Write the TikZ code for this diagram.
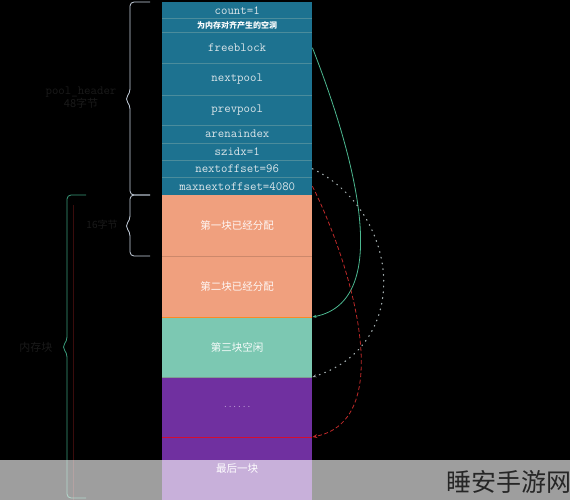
\documentclass[tikz,border=0pt]{standalone}
\usepackage{fontspec}
\newfontfamily\cjk{Noto Sans CJK SC}
\usetikzlibrary{arrows.meta, calc}
\definecolor{hdrfill}{HTML}{1D7290}
\definecolor{hdrsep}{HTML}{4B8C9C}
\definecolor{hdrtext}{HTML}{DCE6EA}
\definecolor{usedfill}{HTML}{F0A07E}
\definecolor{freefill}{HTML}{7CC8B2}
\definecolor{restfill}{HTML}{7030A0}
\definecolor{bracegray}{HTML}{C8D2E0}
\definecolor{bracegreen}{HTML}{3A9C7C}
\definecolor{dimtext}{HTML}{1A1A1A}
\definecolor{guidered}{HTML}{3A0C0C}
\definecolor{freelink}{HTML}{4CB890}
\definecolor{nextlink}{HTML}{A0AAAC}
\definecolor{maxlink}{HTML}{C02A2A}
% #1 colour, #2 x of the bar, #3 x of the ends, #4 top, #5 tip, #6 bottom
\newcommand{\sidebrace}[6]{%
  \draw[#1, thick, rounded corners=4pt]
    (#3,#4) -| (#2,{#5-6}) -- ({#2-5},#5) -- (#2,{#5+6}) |- (#3,#6);}

\begin{document}
\begin{tikzpicture}[
        x=1pt, y=-1pt,
        hdrrow/.style={fill=hdrfill, text=hdrtext, minimum width=150pt,
            inner sep=0pt, anchor=north west, font=\ttfamily\fontsize{12.5}{12.5}\selectfont},
        blkrow/.style={minimum width=150pt, inner sep=0pt, anchor=north west,
            font=\cjk\fontsize{10.5}{11}\selectfont},
        dimlabel/.style={text=dimtext, align=center}
    ]
        \useasboundingbox (0,0) rectangle (570,500);
        \fill[black] (0,0) rectangle (570,500);
        % faint guide line
        \draw[guidered, thin] (73,205) -- (73,500);
        % pool header
        \node[hdrrow, minimum height=16pt] (cnt) at (162,2) {count=1};
        \node[hdrrow, minimum height=14pt, font=\cjk\bfseries\fontsize{8}{8}\selectfont, text=white] (hole) at (162,18) {为内存对齐产生的空洞};
        \node[hdrrow, minimum height=31pt] (free) at (162,32) {freeblock};
        \node[hdrrow, minimum height=32pt] (npool) at (162,63) {nextpool};
        \node[hdrrow, minimum height=30pt] (ppool) at (162,95) {prevpool};
        \node[hdrrow, minimum height=18pt] (arena) at (162,125) {arenaindex};
        \node[hdrrow, minimum height=17pt] (szidx) at (162,143) {szidx=1};
        \node[hdrrow, minimum height=17pt] (noff) at (162,160) {nextoffset=96};
        \node[hdrrow, minimum height=18pt] (maxoff) at (162,177) {maxnextoffset=4080};
        \foreach \r in {hole, free, npool, ppool, arena, szidx, noff, maxoff}
            \draw[hdrsep, thin] (\r.north west) -- (\r.north east);
        % blocks
        \node[blkrow, fill=usedfill, text=white!92!usedfill, minimum height=61pt] (blk1) at (162,195) {第一块已经分配};
        \node[blkrow, fill=usedfill, text=white!92!usedfill, minimum height=61pt] (blk2) at (162,256) {第二块已经分配};
        \node[blkrow, fill=freefill, text=white!95!freefill, minimum height=60pt] (blk3) at (162,317) {第三块空闲};
        \node[blkrow, fill=restfill, text=restfill!40!white, minimum height=60pt, font=\ttfamily\fontsize{9}{9}\selectfont] (blk4) at (162,377) {......};
        \node[blkrow, fill=restfill, text=white, minimum height=63pt] (blk5) at (162,437) {最后一块};
        \draw[usedfill!85!black, thin] (blk2.north west) -- (blk2.north east);
        \draw[orange!70!usedfill, semithick] (blk3.north west) -- (blk3.north east);
        \draw[gray!60!freefill, thin] (blk4.north west) -- (blk4.north east);
        \draw[red!70!restfill, thin] (blk5.north west) -- (blk5.north east);
        % braces and their labels
        \sidebrace{bracegray}{130}{150}{2}{99}{195}
        \sidebrace{bracegray}{130}{150}{195}{226}{256}
        \sidebrace{bracegreen}{67}{86}{195}{347}{498}
        \node[dimlabel, font=\ttfamily\fontsize{12.5}{13}\selectfont] (hdrlabel) at (81,98) {pool\_header\\{\cjk\fontsize{11}{13}\selectfont 48字节}};
        \node[dimlabel, font=\cjk\fontsize{10}{10}\selectfont] (sizelabel) at (102,225) {16字节};
        \node[dimlabel, font=\cjk\fontsize{11}{11}\selectfont] (memlabel) at (36,347) {内存块};
        % offsets
        \draw[freelink, thick, -{Stealth[length=4pt, width=3pt]}]
            (free.east) .. controls +(32,82) and +(89,-17) .. (blk3.north east);
        \draw[nextlink, line width=1.2pt, line cap=round, dash pattern=on 0.8pt off 5pt, -{Stealth[length=4pt, width=3pt]}]
            (noff.east) .. controls +(87,42) and +(102,-32) .. (blk4.north east);
        \draw[maxlink, thick, dash pattern=on 4pt off 2.5pt, -{Stealth[length=5pt, width=4pt]}]
            (maxoff.east) .. controls +(37,74) and +(87,-17) .. (blk5.north east);
        % watermark band
        \fill[white, opacity=0.62] (0,460) rectangle (570,500);
        \node[anchor=west, text=black!85, inner sep=0pt, font=\cjk\fontsize{25}{25}\selectfont] (mark) at (446,482) {睡安手游网};
    \end{tikzpicture}
\end{document}
